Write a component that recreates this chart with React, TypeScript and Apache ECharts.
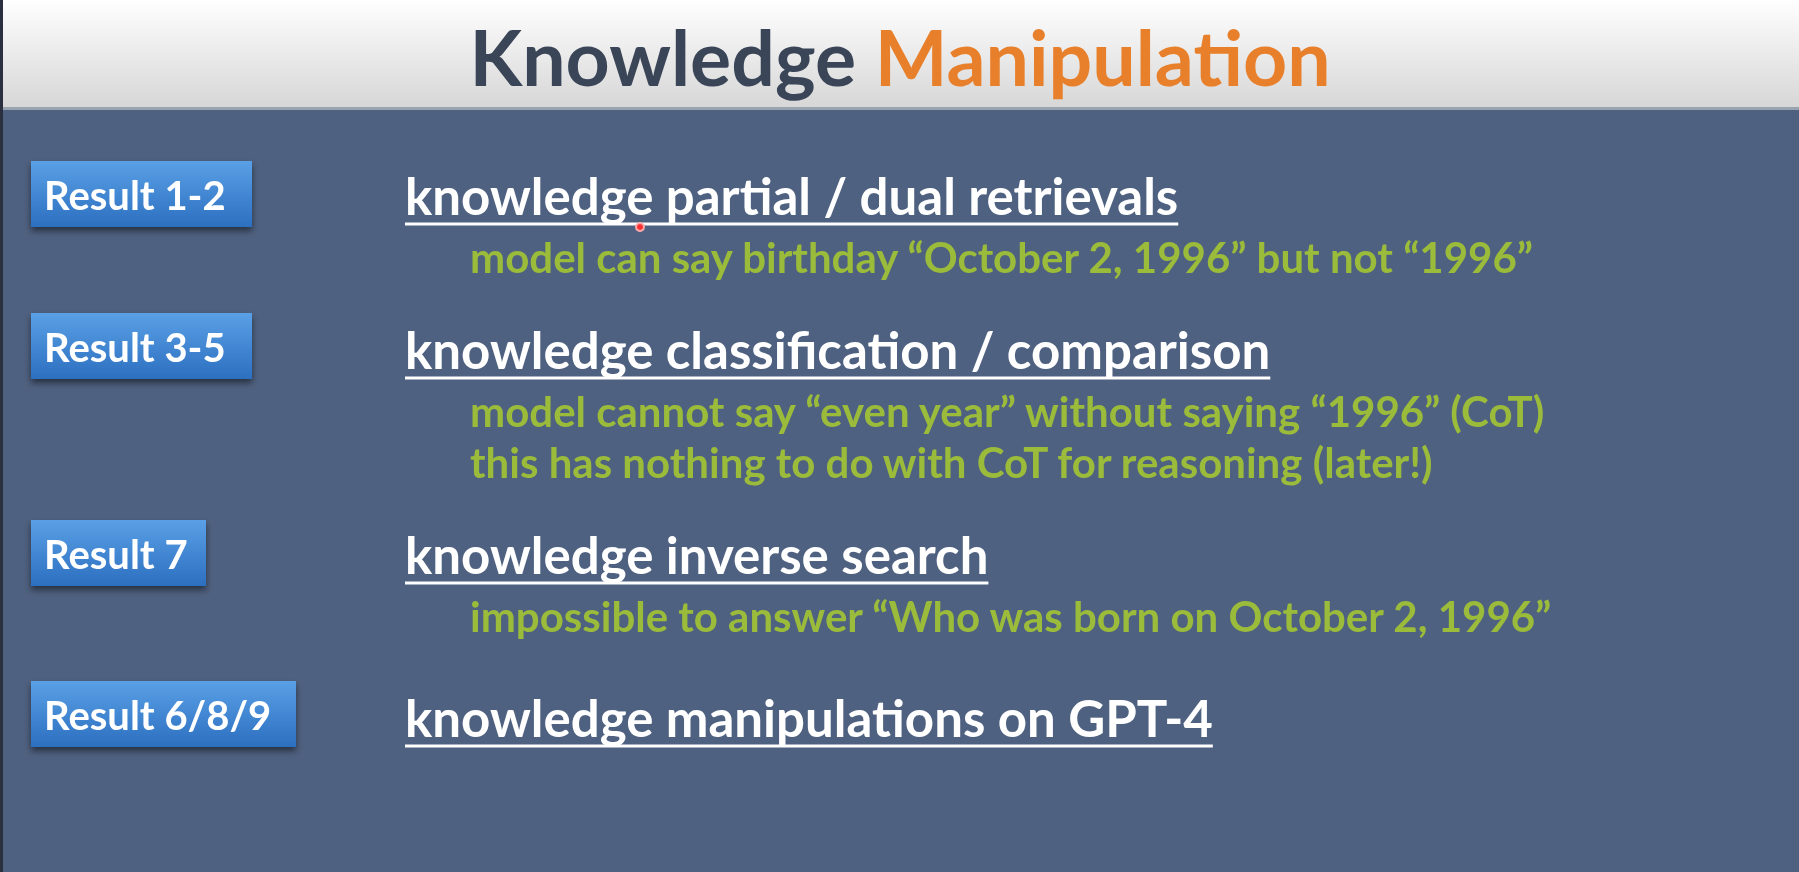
import * as React from "react";
import * as echarts from "echarts";

const resultLabels = ["Result 1-2", "Result 3-5", "Result 7", "Result 6/8/9"];
const headings = [
  "knowledge partial / dual retrievals",
  "knowledge classification / comparison",
  "knowledge inverse search",
  "knowledge manipulations on GPT-4",
];
const details = [
  ["model can say birthday \u201cOctober 2, 1996\u201d but not \u201c1996\u201d"],
  [
    "model cannot say \u201ceven year\u201d without saying \u201c1996\u201d (CoT)",
    "this has nothing to do with CoT for reasoning (later!)",
  ],
  ["impossible to answer \u201cWho was born on October 2, 1996\u201d"],
  [],
];

const FONT = "Lato, 'Open Sans', sans-serif";
const buttonTop = [161, 313, 520, 681];
const buttonWidth = [221, 221, 175, 265];
const headingY = [195, 349, 554, 717];

function measure(text: string, size: number) {
  const c = document.createElement("canvas").getContext("2d")!;
  c.font = `bold ${size}px Lato`;
  return c.measureText(text).width;
}

export default function App() {
  const ref = React.useRef<HTMLDivElement | null>(null);

  React.useEffect(() => {
    if (!ref.current) return;
    const chart = echarts.init(ref.current, undefined, { renderer: "svg" });
    const g: any[] = [
      {
        type: "rect",
        shape: { x: 0, y: 0, width: 1799, height: 872 },
        style: { fill: "#4f6180" },
      },
      {
        type: "rect",
        shape: { x: 0, y: 0, width: 1799, height: 109 },
        style: {
          fill: new echarts.graphic.LinearGradient(0, 0, 0, 1, [
            { offset: 0, color: "#ffffff" },
            { offset: 1, color: "#d6d6d6" },
          ]),
        },
      },
      { type: "rect", shape: { x: 0, y: 107, width: 1799, height: 3 }, style: { fill: "#9aa3b0" } },
      { type: "rect", shape: { x: 0, y: 0, width: 3, height: 872 }, style: { fill: "#2a3040" } },
      {
        type: "text",
        x: 900,
        y: 56,
        style: {
          text: "{a|Knowledge }{b|Manipulation}",
          align: "center",
          verticalAlign: "middle",
          rich: {
            a: { fontFamily: FONT, fontWeight: "bold", fontSize: 77, fill: "#3a4658" },
            b: { fontFamily: FONT, fontWeight: "bold", fontSize: 77, fill: "#e87f2a" },
          },
        },
      },
    ];
    resultLabels.forEach((lab, i) => {
      const y = buttonTop[i];
      g.push({
        type: "rect",
        shape: { x: 31, y, width: buttonWidth[i], height: 66 },
        style: {
          fill: new echarts.graphic.LinearGradient(0, 0, 0, 1, [
            { offset: 0, color: "#5aa0e6" },
            { offset: 1, color: "#2c6fc0" },
          ]),
          shadowBlur: 6,
          shadowOffsetY: 4,
          shadowColor: "rgba(0,0,0,0.5)",
        },
      });
      g.push({
        type: "text",
        x: 44,
        y: y + 34,
        style: { text: lab, fontFamily: FONT, fontWeight: "bold", fontSize: 40, fill: "#ffffff", verticalAlign: "middle" },
      });
      const hy = headingY[i];
      const w = measure(headings[i], 51);
      g.push({
        type: "text",
        x: 405,
        y: hy,
        style: { text: headings[i], fontFamily: FONT, fontWeight: "bold", fontSize: 51, fill: "#ffffff", verticalAlign: "middle" },
      });
      g.push({
        type: "line",
        shape: { x1: 405, y1: hy + 29, x2: 405 + w, y2: hy + 29 },
        style: { stroke: "#ffffff", lineWidth: 3 },
      });
      details[i].forEach((d, j) => {
        g.push({
          type: "text",
          x: 470,
          y: hy + 62 + j * 51,
          style: { text: d, fontFamily: FONT, fontWeight: "bold", fontSize: 42, fill: "#9bbb3b", verticalAlign: "middle" },
        });
      });
    });
    g.push({ type: "circle", shape: { cx: 640, cy: 227, r: 4 }, style: { fill: "#ff3030", stroke: "#ffaaaa", lineWidth: 2 } });
    chart.setOption({ animation: false, graphic: g });
    return () => chart.dispose();
  }, []);

  return <div ref={ref} style={{ width: 1799, height: 872, position: "fixed", left: 0, top: 0 }} />;
}
